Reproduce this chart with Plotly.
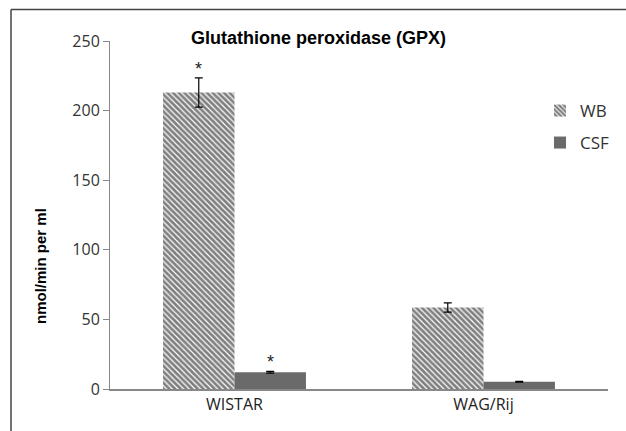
import plotly.graph_objects as go

categories = ["WISTAR", "WAG/Rij"]
wb_values = [213, 58.5]
wb_errors = [10.5, 3.3]
csf_values = [12, 5.2]
csf_errors = [0.6, 0.3]
wb_sig = ["*", ""]
csf_sig = ["*", ""]
y_ticks = [0, 50, 100, 150, 200, 250]

W, H = 626, 431
L, R, T, B = 110, 18, 41, 42
pw, ph = W - L - R, H - T - B

def px_x(p):
    return (p - L) / pw

def px_y(p):
    return (H - B - p) / ph

fig = go.Figure()
fig.add_trace(go.Bar(
    name="WB", x=categories, y=wb_values, legend="legend",
    marker=dict(color="white", line=dict(width=0),
                pattern=dict(shape="\\", fgcolor="black", bgcolor="white", size=4, solidity=0.7)),
    error_y=dict(type="data", array=wb_errors, color="black", thickness=1.2, width=4),
))
fig.add_trace(go.Bar(
    name="CSF", x=categories, y=csf_values, legend="legend2",
    marker=dict(color="#6a6a6a", line=dict(width=0)),
    error_y=dict(type="data", array=csf_errors, color="black", thickness=1.2, width=4),
))

annotations = []
for i, c in enumerate(categories):
    if wb_sig[i]:
        annotations.append(dict(x=c, y=wb_values[i] + wb_errors[i], text=wb_sig[i], showarrow=False,
                                xshift=-36, yshift=9, font=dict(size=18, color="#222", family="Liberation Sans")))
    if csf_sig[i]:
        annotations.append(dict(x=c, y=csf_values[i] + csf_errors[i], text=csf_sig[i], showarrow=False,
                                xshift=36, yshift=9, font=dict(size=18, color="#222", family="Liberation Sans")))

annotations.append(dict(text="<b>Glutathione peroxidase (GPX)</b>", xref="paper", yref="paper",
                        x=px_x(318), y=px_y(38), xanchor="center", yanchor="middle", showarrow=False,
                        font=dict(family="Liberation Sans", size=18, color="black")))
annotations.append(dict(text="<b>nmol/min per ml</b>", xref="paper", yref="paper",
                        x=px_x(40), y=px_y(266), xanchor="center", yanchor="middle", textangle=-90,
                        showarrow=False, font=dict(family="Liberation Sans", size=15, color="black")))

leg_common = dict(xanchor="left", yanchor="middle", bgcolor="rgba(0,0,0,0)",
                  font=dict(size=17, color="#333"), itemwidth=30)

fig.update_layout(
    width=W, height=H,
    margin=dict(l=L, r=R, t=T, b=B, autoexpand=False),
    paper_bgcolor="white", plot_bgcolor="white",
    barmode="group", bargap=0.426, bargroupgap=0,
    font=dict(family="Open Sans", size=14, color="#333"),
    annotations=annotations,
    showlegend=True,
    legend=dict(x=px_x(540), y=px_y(111), **leg_common),
    legend2=dict(x=px_x(540), y=px_y(143), **leg_common),
    yaxis=dict(range=[0, 250], tickvals=y_ticks, showline=True, linecolor="#888", linewidth=1,
               ticks="outside", ticklen=6, tickcolor="#888", showgrid=False, zeroline=False,
               automargin=False, tickfont=dict(size=16, color="#333")),
    xaxis=dict(showline=True, linecolor="#888", linewidth=1.5, ticks="", showgrid=False,
               automargin=False, tickfont=dict(size=16, color="#222")),
    shapes=[
        dict(type="line", xref="paper", yref="paper", x0=px_x(11), x1=px_x(W), y0=px_y(9.5), y1=px_y(9.5),
             line=dict(color="#444", width=1.5)),
        dict(type="line", xref="paper", yref="paper", x0=px_x(11), x1=px_x(11), y0=px_y(9.5), y1=px_y(H),
             line=dict(color="#444", width=1.5)),
    ],
)
fig.write_html("out.html", config={"displayModeBar": False},
               post_script="document.body.style.margin='0';document.body.style.padding='0';")
